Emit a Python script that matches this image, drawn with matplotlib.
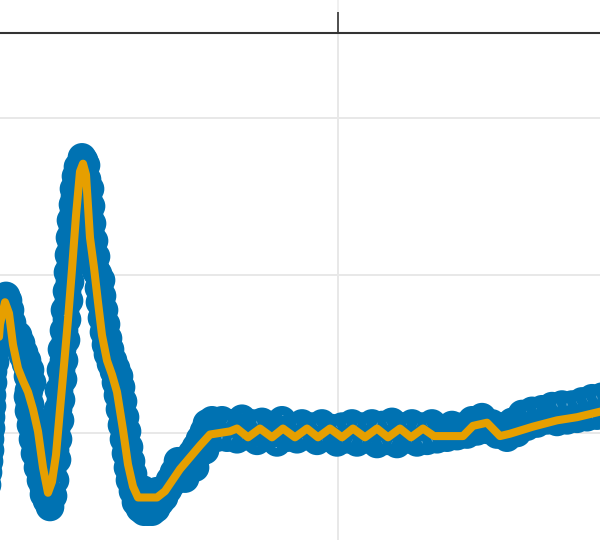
"""Sinal bruto (pontos) com curva suavizada por cima, recorte da janela."""

import matplotlib
matplotlib.use("Agg")  # sem display
import matplotlib.pyplot as plt
from matplotlib.ticker import MultipleLocator

# cores
_CLR_RAW = "#0072B2"
_CLR_FIT = "#E69F00"
_CLR_GRID = "#E8E8E8"
_CLR_SPINE = "#333333"

# pontos brutos (tempo, valor)
raw_t = [
    -0.01, 0.01, 0.02, 0.03, 0.04, 0.05, 0.07, 0.09, 0.11, 0.13, 0.15, 0.18, 0.20,
    0.22, 0.24, 0.26, 0.29, 0.32, 0.35, 0.38, 0.40, 0.41, 0.42, 0.44, 0.46, 0.48,
    0.51, 0.54, 0.56, 0.59, 0.62,
    0.65, 0.67, 0.69, 0.70, 0.72, 0.73, 0.75, 0.76, 0.78, 0.79, 0.81, 0.82, 0.83,
    0.84, 0.85, 0.86, 0.87, 0.89, 0.91, 0.93, 0.96, 0.98,
    0.99, 1.00, 1.01, 1.02, 1.04, 1.06, 1.08, 1.10, 1.11, 1.12, 1.14, 1.16, 1.18,
    1.20, 1.23, 1.26, 1.28, 1.30, 1.32, 1.34, 1.36, 1.38, 1.40, 1.42, 1.45, 1.48,
    1.52, 1.55, 1.56, 1.60, 1.62, 1.64, 1.68, 1.69, 1.72, 1.76, 1.80,
    1.84, 1.88, 1.90, 1.92, 1.96, 1.97, 2.00, 2.04, 2.07, 2.08, 2.12, 2.16, 2.17, 2.19,
    2.24, 2.29, 2.34, 2.39, 2.44, 2.49, 2.54, 2.59, 2.64, 2.69, 2.74, 2.79, 2.84,
    2.89, 2.94, 2.99, 3.04, 3.09, 3.14, 3.19, 3.24, 3.29, 3.34, 3.39, 3.44, 3.49,
    3.54, 3.59, 3.64, 3.69, 3.74, 3.79, 3.84, 3.89, 3.94, 3.99, 4.04, 4.09, 4.14,
    4.19, 4.24, 4.29, 4.34, 4.39, 4.44, 4.49, 4.54, 4.59, 4.64, 4.69, 4.74, 4.79,
    4.84, 4.89, 4.94, 4.99, 5.04, 5.09, 5.14, 5.19, 5.24, 5.29, 5.34, 5.39, 5.44,
    5.49, 5.54, 5.59, 5.64, 5.69, 5.74, 5.79, 5.84, 5.89, 5.94, 5.99, 6.04, 6.09,
    6.14, 6.19, 6.24,
    # amostras intermediarias nos trechos ingremes
    0.00, 0.02, 0.03, 0.04, 0.05, 0.07, 0.09, 0.11, 0.13,
    0.30, 0.33, 0.36, 0.39, 0.42, 0.44,
    0.40, 0.41, 0.43, 0.45, 0.47, 0.50, 0.53, 0.56,
    0.64, 0.67, 0.68, 0.70, 0.71, 0.73, 0.74, 0.76, 0.77, 0.79, 0.80, 0.81, 0.82,
    0.83, 0.85, 0.86, 0.88, 0.90, 0.94,
    1.02, 1.03, 1.04, 1.06, 1.08, 1.13, 1.14, 1.16, 1.18, 1.20, 1.22, 1.25, 1.28,
    1.31, 1.33, 1.35, 1.37, 1.39, 1.41, 1.43, 1.45, 1.48,
    1.82, 1.86, 1.98, 2.02, 2.10, 2.14, 2.21,
]
raw_v = [
    -0.33, -0.18, -0.04, 0.10, 0.24, 0.39, 0.51, 0.62, 0.73, 0.81, 0.86, 0.87, 0.84,
    0.78, 0.70, 0.64, 0.59, 0.54, 0.49, 0.44, 0.36, 0.27, 0.18, 0.10, 0.01, -0.08,
    -0.17, -0.26, -0.35, -0.43, -0.47,
    -0.40, -0.30, -0.17, -0.04, 0.08, 0.21, 0.34, 0.46, 0.59, 0.72, 0.84, 0.96, 1.07,
    1.19, 1.30, 1.40, 1.50, 1.59, 1.67, 1.71, 1.73, 1.70,
    1.61, 1.49, 1.38, 1.28, 1.16, 1.09, 1.03, 1.01, 0.92, 0.83, 0.73, 0.64, 0.56,
    0.50, 0.44, 0.39, 0.32, 0.24, 0.15, 0.05, -0.04, -0.13, -0.22, -0.30, -0.37, -0.44,
    -0.48, -0.36, -0.50, -0.50, -0.39, -0.50, -0.48, -0.37, -0.44, -0.41, -0.36,
    -0.32, -0.28, -0.18, -0.24, -0.20, -0.29, -0.17, -0.13, -0.22, -0.09, -0.04, 0.01, -0.11, 0.06,
    0.08, -0.03, 0.08, -0.03, 0.06, -0.04, 0.09, -0.02, 0.06, -0.05, 0.07, -0.02, 0.05,
    -0.06, 0.08, -0.03, 0.04, -0.04, 0.06, -0.02, 0.04, -0.05, 0.06, -0.03, 0.03, -0.06,
    0.04, -0.04, 0.06, -0.06, 0.04, -0.04, 0.06, -0.07, 0.05, -0.05, 0.07, -0.07, 0.04,
    -0.04, 0.06, -0.06, 0.04, -0.05, 0.06, -0.04, 0.03, -0.03, 0.05, -0.02, 0.04, -0.01,
    0.08, 0.01, 0.10, 0.02, 0.06, -0.01, 0.04, -0.03, 0.07, 0.00, 0.12, 0.04, 0.14,
    0.06, 0.15, 0.08, 0.17, 0.07, 0.18, 0.08, 0.18, 0.09, 0.20, 0.10, 0.22, 0.11,
    0.23, 0.13, 0.23,
    # amostras intermediarias nos trechos ingremes
    -0.25, -0.11, 0.03, 0.17, 0.32, 0.45, 0.57, 0.67, 0.77,
    0.62, 0.57, 0.51, 0.46, 0.40, 0.32,
    0.23, 0.14, 0.05, -0.04, -0.13, -0.22, -0.30, -0.39,
    -0.24, -0.11, 0.02, 0.15, 0.27, 0.40, 0.53, 0.65, 0.78, 0.90, 1.02, 1.13, 1.24,
    1.35, 1.45, 1.55, 1.63, 1.69, 1.75,
    1.55, 1.44, 1.33, 1.22, 1.12, 0.97, 0.87, 0.78, 0.69, 0.60, 0.53, 0.46, 0.41,
    0.36, 0.29, 0.20, 0.10, 0.01, -0.09, -0.18, -0.26, -0.34,
    -0.30, -0.25, -0.23, -0.18, -0.14, -0.03, 0.03,
]

# curva suavizada
fit_t = [
    0.00, 0.06, 0.12, 0.17, 0.21, 0.25, 0.30, 0.35, 0.40, 0.45, 0.50, 0.55, 0.60,
    0.64, 0.68, 0.72, 0.76, 0.80, 0.84, 0.88, 0.92, 0.95, 0.98, 1.02, 1.06, 1.10,
    1.14, 1.19, 1.24, 1.29, 1.35, 1.40, 1.45, 1.50, 1.69, 1.77, 1.92, 2.12, 2.22,
    2.42, 2.49, 2.60, 2.72, 2.84, 2.95, 3.07, 3.19, 3.30, 3.42, 3.54, 3.65, 3.77,
    3.89, 4.00, 4.12, 4.23, 4.35, 4.46, 4.75, 4.85, 4.99, 5.12, 5.22, 5.45, 5.69,
    5.89, 6.12, 6.24,
]
fit_v = [
    -0.30, 0.21, 0.69, 0.83, 0.76, 0.56, 0.41, 0.33, 0.26, 0.15, 0.01, -0.22, -0.38,
    -0.31, -0.14, 0.15, 0.43, 0.72, 1.04, 1.38, 1.66, 1.71, 1.64, 1.24, 1.05, 0.83,
    0.62, 0.46, 0.37, 0.26, 0.02, -0.20, -0.34, -0.41, -0.41, -0.37, -0.23, -0.08, -0.01,
    0.01, 0.028, -0.028, 0.028, -0.028, 0.028, -0.028, 0.028, -0.028, 0.028, -0.028, 0.028, -0.028,
    0.028, -0.028, 0.028, -0.028, 0.028, -0.02, -0.02, 0.045, 0.065, -0.02, -0.005, 0.04, 0.08,
    0.10, 0.135, 0.15,
]

fig = plt.figure(figsize=(6, 5.4), dpi=100, facecolor="white")
ax = fig.add_axes([0, 0, 1, 507 / 540])
ax.set_facecolor("white")

ax.scatter(raw_t, raw_v, s=200, facecolors="none", edgecolors=_CLR_RAW,
           linewidths=6.5, zorder=3)
ax.plot(fit_t, fit_v, color=_CLR_FIT, linewidth=5.8, solid_joinstyle="round",
        solid_capstyle="round", zorder=4)

ax.set_xlim(0.12, 6.12)
ax.set_ylim(-0.68, 2.54)
ax.xaxis.set_major_locator(MultipleLocator(3.5))
ax.yaxis.set_major_locator(MultipleLocator(1.0))
ax.grid(True, color=_CLR_GRID, linewidth=1.4, zorder=0)
ax.set_axisbelow(True)

for side in ("left", "right", "bottom"):
    ax.spines[side].set_visible(False)
ax.spines["top"].set_color(_CLR_SPINE)
ax.spines["top"].set_linewidth(1.5)

ax.xaxis.tick_top()
ax.tick_params(axis="x", direction="out", length=15, width=1.2, color=_CLR_SPINE,
               labeltop=False, labelbottom=False)
ax.tick_params(axis="y", left=False, right=False, labelleft=False)

# resto da grade do painel de cima
ax.axvline(3.5, ymin=1.0, ymax=1.07, color="#F0F0F0", linewidth=1.4,
           clip_on=False, zorder=0)

fig.savefig("out.png", dpi=100, facecolor="white")
plt.close(fig)
